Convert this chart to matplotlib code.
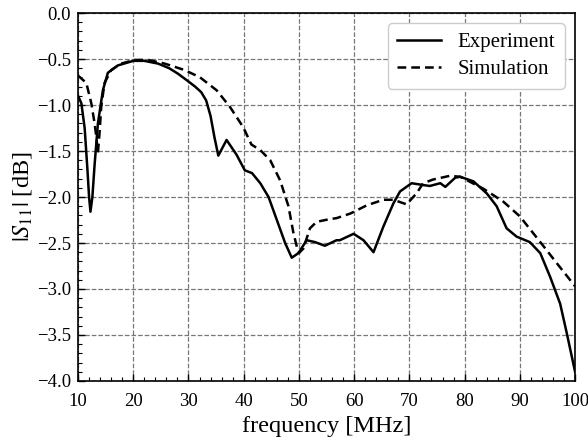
import matplotlib
matplotlib.use("Agg")
import matplotlib.pyplot as plt
from matplotlib.ticker import MultipleLocator

plt.rcParams['font.family'] = ['Liberation Serif', 'DejaVu Serif']
plt.rcParams['mathtext.fontset'] = 'stix'

f_exp = [10.0, 10.6, 11.2, 11.7, 12.0, 12.25, 12.6, 13.0, 13.6, 14.5, 15.4, 17.2, 20.0, 22.0,
         24.5, 26.5, 28.1, 29.9, 31.2, 32.3, 33.2, 34.0, 34.7, 35.4, 36.9, 38.7, 40.2, 41.5, 43.0, 44.5,
         46.0, 47.5, 48.7, 49.9, 51.4, 52.9, 54.7, 56.8, 57.4, 59.9, 61.7, 63.5, 65.3, 67.1,
         68.3, 70.4, 72.5, 73.7, 75.6, 76.5, 78.3, 79.2, 81.6, 84.0, 85.8, 87.6, 89.4, 91.8,
         93.7, 95.5, 97.3, 98.5, 100.0]
s_exp = [-0.90, -0.98, -1.25, -1.70, -2.00, -2.16, -2.00, -1.65, -1.20, -0.84, -0.65, -0.57, -0.52, -0.52,
         -0.55, -0.60, -0.66, -0.74, -0.80, -0.86, -0.95, -1.12, -1.35, -1.55, -1.38, -1.54, -1.71, -1.74, -1.85, -2.00,
         -2.25, -2.50, -2.66, -2.61, -2.47, -2.49, -2.53, -2.47, -2.47, -2.40, -2.47, -2.60, -2.32, -2.07,
         -1.94, -1.85, -1.87, -1.88, -1.85, -1.89, -1.79, -1.78, -1.83, -1.96, -2.10, -2.34, -2.43, -2.49,
         -2.61, -2.87, -3.16, -3.48, -3.90]

# simulated |S11|
f_sim = [10.0, 11.5, 12.4, 13.0, 13.3, 13.6, 13.9, 14.2, 14.8, 16.0, 17.8, 20.3, 22.7, 25.7,
         29.3, 32.1, 35.1, 37.5, 39.9, 41.4, 43.0, 44.8, 46.6, 48.1, 49.0, 49.7, 50.0, 50.8,
         52.0, 53.2, 55.6, 56.8, 59.3, 62.3, 65.3, 67.1, 69.5, 71.3, 72.5, 74.3, 77.3, 79.2,
         83.4, 87.0, 90.0, 93.7, 96.7, 100.0]
s_sim = [-0.68, -0.76, -0.98, -1.20, -1.34, -1.52, -1.30, -1.02, -0.76, -0.62, -0.55, -0.51, -0.51, -0.55,
         -0.62, -0.70, -0.84, -1.02, -1.24, -1.43, -1.49, -1.60, -1.82, -2.10, -2.39, -2.56, -2.61, -2.56,
         -2.34, -2.27, -2.24, -2.23, -2.18, -2.09, -2.03, -2.03, -2.08, -1.96, -1.85, -1.81, -1.77, -1.78,
         -1.91, -2.05, -2.21, -2.49, -2.72, -2.97]

fig = plt.figure(figsize=(5.88, 4.44), dpi=100)
ax = fig.add_axes([0.1327, 0.1419, 0.8453, 0.8288])

ax.plot(f_exp, s_exp, color='black', lw=1.8, ls='-', label='Experiment')
ax.plot(f_sim, s_sim, color='black', lw=1.8, ls=(0, (3.5, 2)), label='Simulation')

ax.set_xlim(10, 100)
ax.set_ylim(-4.0, 0.0)
ax.xaxis.set_major_locator(MultipleLocator(10))
ax.xaxis.set_minor_locator(MultipleLocator(2))
ax.yaxis.set_major_locator(MultipleLocator(0.5))
ax.yaxis.set_minor_locator(MultipleLocator(0.1))
ax.yaxis.set_major_formatter(plt.FuncFormatter(lambda v, p: f"{v:.1f}".replace('-', '\u2212')))

ax.tick_params(which='both', direction='in', labelsize=13.5, top=False, right=False)
ax.tick_params(which='major', length=5, width=1)
ax.tick_params(which='minor', length=3, width=0.8)
ax.tick_params(axis='x', which='major', pad=9)
ax.tick_params(axis='y', which='major', pad=5)
ax.grid(True, which='major', ls='--', color='#777777', lw=0.9)
for sp in ax.spines.values():
    sp.set_linewidth(1.2)

ax.set_xlabel('frequency [MHz]', fontsize=17.5, labelpad=4)
ax.set_ylabel(r'$|S_{11}|$ [dB]', fontsize=17.5, labelpad=2)

ax.legend(loc='upper right', fontsize=15, frameon=True, edgecolor='#cccccc',
          framealpha=1.0, handlelength=2.1, borderpad=0.45, labelspacing=0.35)

fig.savefig('out.png', dpi=100)
